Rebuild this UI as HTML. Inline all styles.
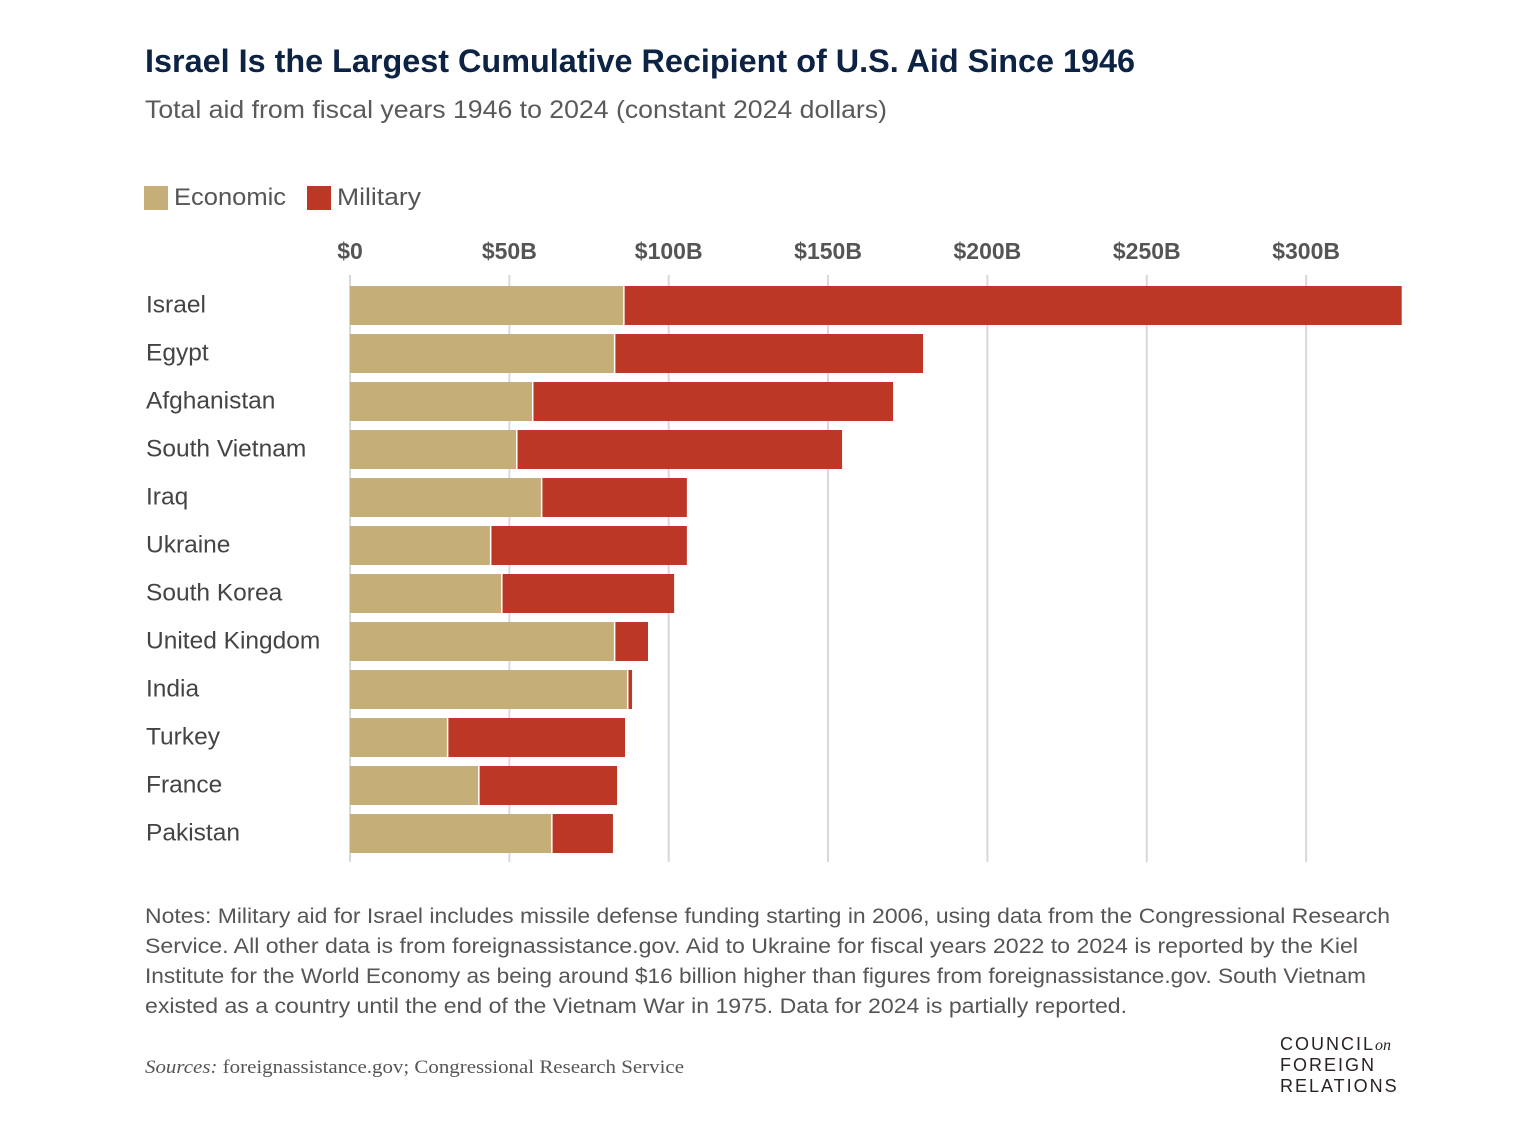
<!DOCTYPE html>
<html><head><meta charset="utf-8">
<style>
body{margin:0;background:#fff;width:1520px;height:1141px;overflow:hidden;font-family:"Liberation Sans",sans-serif;}
svg text{font-family:"Liberation Sans",sans-serif;}
</style></head><body>
<svg id="chart" width="1520" height="1141">
<text x="145" y="72" font-size="32" font-weight="bold" fill="#0d2344" textLength="990" lengthAdjust="spacingAndGlyphs">Israel Is the Largest Cumulative Recipient of U.S. Aid Since 1946</text>
<text x="145" y="118" font-size="25" fill="#5a5a5a" textLength="742" lengthAdjust="spacingAndGlyphs">Total aid from fiscal years 1946 to 2024 (constant 2024 dollars)</text>
<g>
<rect x="144" y="186" width="24" height="24" fill="#c6ae78"/>
<text x="174" y="205" font-size="24" fill="#555" textLength="112" lengthAdjust="spacingAndGlyphs">Economic</text>
<rect x="307" y="186" width="24" height="24" fill="#bc3726"/>
<text x="337" y="205" font-size="24" fill="#555" textLength="84" lengthAdjust="spacingAndGlyphs">Military</text>
</g>
<g id="grid"></g><g id="bars"></g><g id="labels"></g>
<g font-size="21" fill="#555">
<text x="145" y="923" textLength="1245" lengthAdjust="spacingAndGlyphs">Notes: Military aid for Israel includes missile defense funding starting in 2006, using data from the Congressional Research</text>
<text x="145" y="953" textLength="1213" lengthAdjust="spacingAndGlyphs">Service. All other data is from foreignassistance.gov. Aid to Ukraine for fiscal years 2022 to 2024 is reported by the Kiel</text>
<text x="145" y="983" textLength="1221" lengthAdjust="spacingAndGlyphs">Institute for the World Economy as being around $16 billion higher than figures from foreignassistance.gov. South Vietnam</text>
<text x="145" y="1013" textLength="982" lengthAdjust="spacingAndGlyphs">existed as a country until the end of the Vietnam War in 1975. Data for 2024 is partially reported.</text>
</g>
<text x="145" y="1073" font-size="19" fill="#555" textLength="539" lengthAdjust="spacingAndGlyphs" style="font-family:'Liberation Serif',serif"><tspan font-style="italic">Sources:</tspan> foreignassistance.gov; Congressional Research Service</text>
<g fill="#2a2222" font-size="18" letter-spacing="2">
<text x="1280" y="1050">COUNCIL<tspan font-style="italic" letter-spacing="0" style="font-family:'Liberation Serif',serif" font-size="16">on</tspan></text>
<text x="1280" y="1071">FOREIGN</text>
<text x="1280" y="1092">RELATIONS</text>
</g>
</svg>
<script>
const countries=["Israel","Egypt","Afghanistan","South Vietnam","Iraq","Ukraine","South Korea","United Kingdom","India","Turkey","France","Pakistan"];
const economic=[85.7,82.8,57.1,52.1,59.9,43.9,47.4,82.8,86.9,30.4,40.2,63.1];
const military=[244.3,97.0,113.3,102.3,45.8,61.8,54.3,10.7,1.6,55.9,43.6,19.4];
const ticks=[0,50,100,150,200,250,300];
const tickLabels=["$0","$50B","$100B","$150B","$200B","$250B","$300B"];
const NS="http://www.w3.org/2000/svg";
const x0=350,pxPer=3.187,top0=286,step=48,bh=39;
const xs=v=>x0+v*pxPer;
const ys=i=>top0+i*step;
function mk(tag,attrs,parent){const e=document.createElementNS(NS,tag);for(const k in attrs)e.setAttribute(k,attrs[k]);parent.appendChild(e);return e;}
const grid=document.getElementById('grid'),bars=document.getElementById('bars'),labels=document.getElementById('labels');
ticks.forEach((t,i)=>{
 const l=mk('line',{x1:xs(t),x2:xs(t),y1:275,y2:862,stroke:'#d8d8d8','stroke-width':2},grid);
 
 
 const tx=mk('text',{x:xs(t),y:259,'text-anchor':'middle','font-size':23,fill:'#555','font-weight':'bold'},grid);
 tx.textContent=tickLabels[i];
 
 
});
countries.forEach((c,i)=>{
 const y=ys(i);
 const e=mk('rect',{x:xs(0),y:y,width:xs(economic[i])-xs(0),height:bh,fill:'#c6ae78'},bars);
 
 
 const m=mk('rect',{x:xs(economic[i])+1.5,y:y,width:Math.max(0,xs(economic[i]+military[i])-xs(economic[i])-1.5),height:bh,fill:'#bc3726'},bars);
 
 
 const t=mk('text',{x:146,y:y+bh/2+7,'font-size':24.5,fill:'#444'},labels);
 t.textContent=c;
 
 
});
</script>
</body></html>
